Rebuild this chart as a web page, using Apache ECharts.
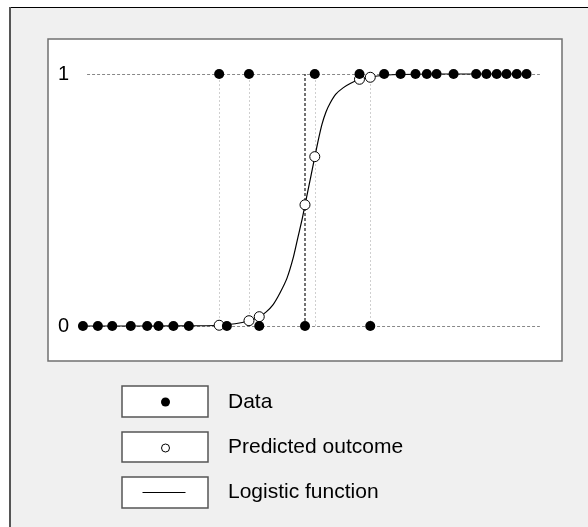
<!DOCTYPE html>
<html>
<head>
<meta charset="utf-8">
<script src="https://cdn.jsdelivr.net/npm/echarts@6/dist/echarts.min.js"></script>
<style>html,body{margin:0;padding:0;background:#fff;}#c{width:588px;height:527px;}</style>
</head>
<body>
<div id="c"></div>
<script>
// Observed outcomes
const dataX = [6.8, 9.7, 12.5, 16.1, 19.3, 21.5, 24.4, 27.4, 34.8, 41.1, 50.0, 62.7,
               33.3, 39.1, 51.9, 60.6, 65.4, 68.6, 71.5, 73.7, 75.6, 78.9, 83.3, 85.3, 87.3, 89.2, 91.2, 93.1];
const dataY = [0, 0, 0, 0, 0, 0, 0, 0, 0, 0, 0, 0,
               1, 1, 1, 1, 1, 1, 1, 1, 1, 1, 1, 1, 1, 1, 1, 1];
// Predicted outcomes
const predX = [33.3, 39.1, 41.1, 50.0, 51.9, 60.6, 62.7];
const predY = [0.003, 0.021, 0.037, 0.481, 0.672, 0.979, 0.987];
// Logistic function
const curveX = [6.8, 19.8, 29.6, 33.3, 36.4, 39.1, 41.1, 42.4, 43.8, 45.1, 46.5, 47.7, 48.6, 49.4, 50.0, 50.6, 51.2, 51.9, 52.5, 53.3, 54.1, 54.9, 56.0, 57.4, 58.8, 60.6, 62.7, 65.6, 68.5, 74.3, 93.1];
const curveY = [0, 0, 0.001, 0.003, 0.009, 0.021, 0.037, 0.055, 0.085, 0.13, 0.19, 0.27, 0.35, 0.42, 0.48, 0.54, 0.60, 0.67, 0.73, 0.80, 0.85, 0.885, 0.92, 0.945, 0.962, 0.979, 0.988, 0.995, 0.998, 1.0, 1.0];
// Reference lines
const thresholdX = 50.0;
const helperX = [33.3, 39.1, 51.9, 62.7];
const levelRange = [7.6, 95.7];
const yTicks = [0, 1];
const legendNames = ['Data', 'Predicted outcome', 'Logistic function'];

const zip = (a, b) => a.map((v, i) => [v, b[i]]);
const FONT = '"Liberation Sans", Arial, sans-serif';

const markLines = [];
yTicks.forEach(v => markLines.push([{coord: [levelRange[0], v], lineStyle: {color: '#888', type: [3, 2], width: 1}}, {coord: [levelRange[1], v]}]));
helperX.forEach(x => markLines.push([{coord: [x, 0], lineStyle: {color: '#cfcfcf', type: [2, 2], width: 1}}, {coord: [x, 1]}]));
markLines.push([{coord: [thresholdX, 0], lineStyle: {color: '#444', type: [3, 2], width: 1.5}}, {coord: [thresholdX, 1]}]);

const chart = echarts.init(document.getElementById('c'), null, {renderer: 'canvas'});
chart.setOption({
  backgroundColor: '#fff',
  animation: false,
  grid: {left: 48, right: 26, top: 39, bottom: 166, show: true, backgroundColor: '#fff', borderColor: '#707070', borderWidth: 1.5},
  xAxis: {type: 'value', min: 0, max: 100, show: false},
  yAxis: {
    type: 'value', min: -0.1389, max: 1.1389, offset: -22,
    axisLine: {show: false}, axisTick: {show: false}, splitLine: {show: false},
    axisLabel: {customValues: yTicks, margin: 1, color: '#000', fontSize: 20, fontFamily: FONT}
  },
  graphic: [
    {type: 'rect', z: -10, silent: true, shape: {x: 10, y: 7, width: 600, height: 540}, style: {fill: '#f0f0f0'}},
    {type: 'line', z: -9, shape: {x1: 10, y1: 7.5, x2: 588, y2: 7.5}, style: {stroke: '#000', lineWidth: 1}},
    {type: 'line', z: -9, shape: {x1: 10, y1: 7, x2: 10, y2: 527}, style: {stroke: '#555', lineWidth: 2}},
    {type: 'rect', shape: {x: 122, y: 386, width: 86, height: 31}, style: {fill: '#fff', stroke: '#555', lineWidth: 1.5}},
    {type: 'rect', shape: {x: 122, y: 432, width: 86, height: 30}, style: {fill: '#fff', stroke: '#555', lineWidth: 1.5}},
    {type: 'rect', shape: {x: 122, y: 477, width: 86, height: 31}, style: {fill: '#fff', stroke: '#555', lineWidth: 1.5}},
    {type: 'circle', z: 10, shape: {cx: 165.5, cy: 402, r: 4.5}, style: {fill: '#000'}},
    {type: 'circle', z: 10, shape: {cx: 165.5, cy: 448, r: 4}, style: {fill: '#fff', stroke: '#000', lineWidth: 1}},
    {type: 'line', z: 10, shape: {x1: 142.5, y1: 492.5, x2: 185.5, y2: 492.5}, style: {stroke: '#000', lineWidth: 1}},
    {type: 'text', x: 228, y: 402, style: {text: legendNames[0], fill: '#000', font: '21px ' + FONT, textVerticalAlign: 'middle'}},
    {type: 'text', x: 228, y: 447, style: {text: legendNames[1], fill: '#000', font: '21px ' + FONT, textVerticalAlign: 'middle'}},
    {type: 'text', x: 228, y: 492, style: {text: legendNames[2], fill: '#000', font: '21px ' + FONT, textVerticalAlign: 'middle'}}
  ],
  series: [
    {
      name: legendNames[2], type: 'line', z: 2, data: zip(curveX, curveY), showSymbol: false, smooth: 0.25,
      lineStyle: {color: '#000', width: 1.2},
      markLine: {silent: true, symbol: 'none', label: {show: false}, data: markLines, z: 1}
    },
    {
      name: legendNames[1], type: 'scatter', z: 3, data: zip(predX, predY), symbol: 'circle', symbolSize: 10,
      itemStyle: {color: '#fff', borderColor: '#000', borderWidth: 1, opacity: 1}
    },
    {
      name: legendNames[0], type: 'scatter', z: 4, data: zip(dataX, dataY), symbol: 'circle', symbolSize: 10,
      itemStyle: {color: '#000', opacity: 1}
    }
  ]
});
</script>
</body>
</html>
